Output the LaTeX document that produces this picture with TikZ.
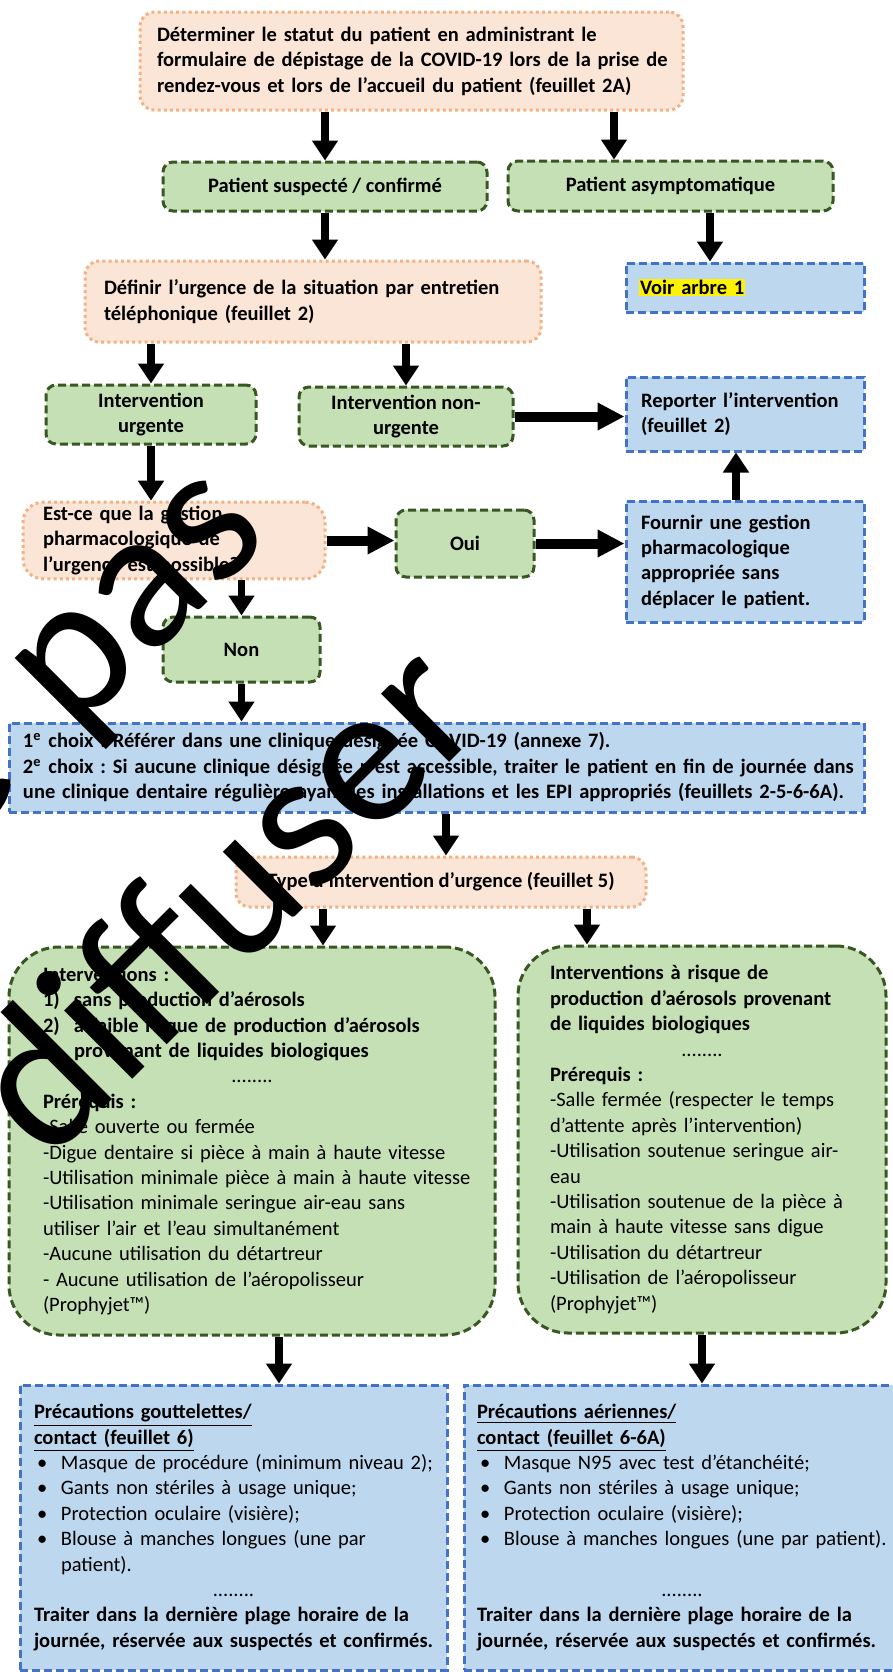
\documentclass[tikz,border=0pt]{standalone}
\usepackage{fontspec}
\setmainfont{Carlito}
\usetikzlibrary{arrows.meta}
\definecolor{orfill}{HTML}{FBE5D6}
\definecolor{ordraw}{HTML}{F4B183}
\definecolor{grfill}{HTML}{C5E0B4}
\definecolor{grdraw}{HTML}{385723}
\definecolor{blfill}{HTML}{BDD7EE}
\definecolor{bldraw}{HTML}{4472C4}
\newcommand\puce{\hspace*{1.5pt}\makebox[12pt][l]{\textbullet}}
\newcommand\points{\makebox[\linewidth]{\mdseries ........}}
\setlength{\fboxsep}{0.5pt}
\frenchspacing
\begin{document}
\begin{tikzpicture}[x=0.5pt,y=-0.5pt,
  font=\fontsize{10.25pt}{12.7pt}\selectfont\bfseries,
  lft/.style={align=left, text width=#1, execute at begin node={\rightskip=0pt plus 1fil minus 30pt\relax}},
  orbox/.style={draw=ordraw, fill=orfill, line width=1.5pt, dash pattern=on 1.5pt off 1.6pt, rounded corners=7pt, inner ysep=2pt},
  grbox/.style={draw=grdraw, fill=grfill, line width=1.5pt, dash pattern=on 4pt off 2pt, rounded corners=5pt, align=center, inner sep=2pt},
  blbox/.style={draw=bldraw, fill=blfill, line width=1.5pt, dash pattern=on 4pt off 2pt, inner ysep=2pt},
  arr/.style={-{Triangle[length=10pt,width=12.5pt]}, line width=3.8pt},
  arrh/.style={-{Triangle[length=13.5pt,width=13pt]}, line width=5pt},
  wm/.style={font=\fontsize{101pt}{142pt}\selectfont, align=center, text width=400pt, anchor=base, rotate=45}]
\useasboundingbox (0,0) rectangle (893,1672);
\node[orbox, lft=254.5pt, inner xsep=8.5pt, minimum height=49pt] (statut) at (411.5,61) {Déterminer le statut du patient en administrant le\\ formulaire de dépistage de la COVID-19 lors de la prise de\\ rendez-vous et lors de l’accueil du patient (feuillet 2A)};
\node[grbox, minimum width=162pt, minimum height=24.5pt] (suspect) at (325,186.5) {Patient suspecté / confirmé};
\node[grbox, minimum width=162.5pt, minimum height=25pt] (asympto) at (670.5,186) {Patient asymptomatique};
\node[blbox, lft=106pt, inner xsep=6.5pt, minimum height=24.5pt] (arbre) at (745,287.5) {\colorbox{yellow}{Voir arbre 1}};
\node[orbox, lft=209pt, inner xsep=9.5pt, minimum height=40.5pt] (urgence) at (313,301.5) {Définir l’urgence de la situation par entretien\\ téléphonique (feuillet 2)};
\node[grbox, minimum width=105pt, minimum height=29.5pt] (urgente) at (151,414.5) {Intervention\\ urgente};
\node[grbox, minimum width=107pt, minimum height=29.5pt] (nonurgente) at (406,416.5) {Intervention non-\\ urgente};
\node[blbox, lft=104pt, inner xsep=7.5pt, minimum height=37pt] (reporter) at (745,414) {Reporter l’intervention\\ (feuillet 2)};
\node[orbox, rounded corners=10pt, lft=131pt, inner xsep=10pt, minimum height=37.5pt] (gestion) at (174,540.5) {Est-ce que la gestion\\ pharmacologique de\\ l’urgence est possible?};
\node[grbox, minimum width=69pt, minimum height=33.5pt] (oui) at (465,543.5) {Oui};
\node[blbox, lft=104pt, inner xsep=7.5pt, minimum height=60.5pt] (fournir) at (745,561.5) {Fournir une gestion\\ pharmacologique\\ appropriée sans\\ déplacer le patient.};
\node[grbox, minimum width=78.5pt, minimum height=32.5pt] (non) at (241.5,649.5) {Non};
\node[blbox, lft=413.5pt, inner xsep=7pt, minimum height=44.5pt] (choix) at (436.5,767.5) {1\textsuperscript{e} choix : Référer dans une clinique désignée COVID-19 (annexe 7).\\ 2\textsuperscript{e} choix : Si aucune clinique désignée n’est accessible, traiter le patient en fin de journée dans\\ une clinique dentaire régulière ayant les installations et les EPI appropriés (feuillets 2-5-6-6A).};
\node[orbox, minimum width=205pt, minimum height=25pt] (type) at (441,882) {Type d’intervention d’urgence (feuillet 5)};
\node[grbox, rounded corners=25pt, lft=209pt, inner xsep=17pt, minimum height=194pt] (sansaero) at (252,1141) {Interventions :\\ \makebox[15.5pt][l]{1)}sans production d’aérosols\\ \makebox[15.5pt][l]{2)}à faible risque de production d’aérosols\\ \hspace*{15.5pt}provenant de liquides biologiques\\ \points\\ Prérequis :\\ \mdseries -Salle ouverte ou fermée\\ -Digue dentaire si pièce à main à haute vitesse\\ -Utilisation minimale pièce à main à haute vitesse\\ -Utilisation minimale seringue air-eau sans\\ utiliser l’air et l’eau simultanément\\ -Aucune utilisation du détartreur\\ - Aucune utilisation de l’aéropolisseur\\ (Prophyjet™)\par\vspace*{-5pt}};
\node[grbox, rounded corners=25pt, lft=152pt, inner xsep=16pt, minimum height=193.5pt] (avecaero) at (702,1139.5) {Interventions à risque de\\ production d’aérosols provenant\\ de liquides biologiques\\ \points\\ Prérequis :\\ \mdseries -Salle fermée (respecter le temps\\ d’attente après l’intervention)\\ -Utilisation soutenue seringue air-\\ eau\\ -Utilisation soutenue de la pièce à\\ main à haute vitesse sans digue\\ -Utilisation du détartreur\\ -Utilisation de l’aéropolisseur\\ (Prophyjet™)\par\vspace*{-5pt}};
\node[blbox, lft=199.5pt, inner xsep=7pt, inner ysep=0pt, minimum height=142.5pt] (gouttes) at (233.5,1527.5) {\underline{Précautions gouttelettes/}\\ \underline{contact (feuillet 6)}\\ \mdseries \puce Masque de procédure (minimum niveau 2);\\ \puce Gants non stériles à usage unique;\\ \puce Protection oculaire (visière);\\ \puce Blouse à manches longues (une par\\ \hspace*{13.5pt}patient).\\ \points\\ \bfseries Traiter dans la dernière plage horaire de la\\ journée, réservée aux suspectés et confirmés.\par\vspace*{15pt}};
\node[blbox, lft=205pt, inner xsep=6.5pt, inner ysep=0pt, minimum height=142.5pt] (aeriennes) at (682,1527.5) {\underline{Précautions aériennes/}\\ \underline{contact (feuillet 6-6A)}\\ \mdseries \puce Masque N95 avec test d’étanchéité;\\ \puce Gants non stériles à usage unique;\\ \puce Protection oculaire (visière);\\ \puce Blouse à manches longues (une par patient).\\ \strut\\ \points\\ \bfseries Traiter dans la dernière plage horaire de la\\ journée, réservée aux suspectés et confirmés.\par\vspace*{15pt}};
\draw[arr] (statut.south -| suspect.north) -- (suspect.north);
\draw[arr] (statut.south -| 614,0) -- (asympto.north -| 614,0);
\draw[arr] (suspect.south) -- (suspect.south |- urgence.north);
\draw[arr] (asympto.south -| 710,0) -- (arbre.north -| 710,0);
\draw[arr] (urgence.south -| urgente.north) -- (urgente.north);
\draw[arr] (urgence.south -| nonurgente.north) -- (nonurgente.north);
\draw[arrh] (nonurgente.east) -- (nonurgente.east -| reporter.west);
\draw[arr] (urgente.south) -- (urgente.south |- gestion.north);
\draw[arrh] (gestion.east) -- (gestion.east -| oui.west);
\draw[arrh] (oui.east) -- (oui.east -| fournir.west);
\draw[arr] (fournir.north -| 736,0) -- (reporter.south -| 736,0);
\draw[arr] (gestion.south -| non.north) -- (non.north);
\draw[arr] (non.south) -- (non.south |- choix.north);
\draw[arr] (choix.south -| 446,0) -- (type.north -| 446,0);
\draw[arr] (type.south -| 323,0) -- (sansaero.north -| 323,0);
\draw[arr] (type.south -| 587,0) -- (avecaero.north -| 587,0);
\draw[arr] (sansaero.south -| 279,0) -- (gouttes.north -| 279,0);
\draw[arr] (avecaero.south) -- (avecaero.south |- aeriennes.north);
\node[wm] (diffusion) at (68,742) {Ne pas\\diffuser};
\end{tikzpicture}
\end{document}
